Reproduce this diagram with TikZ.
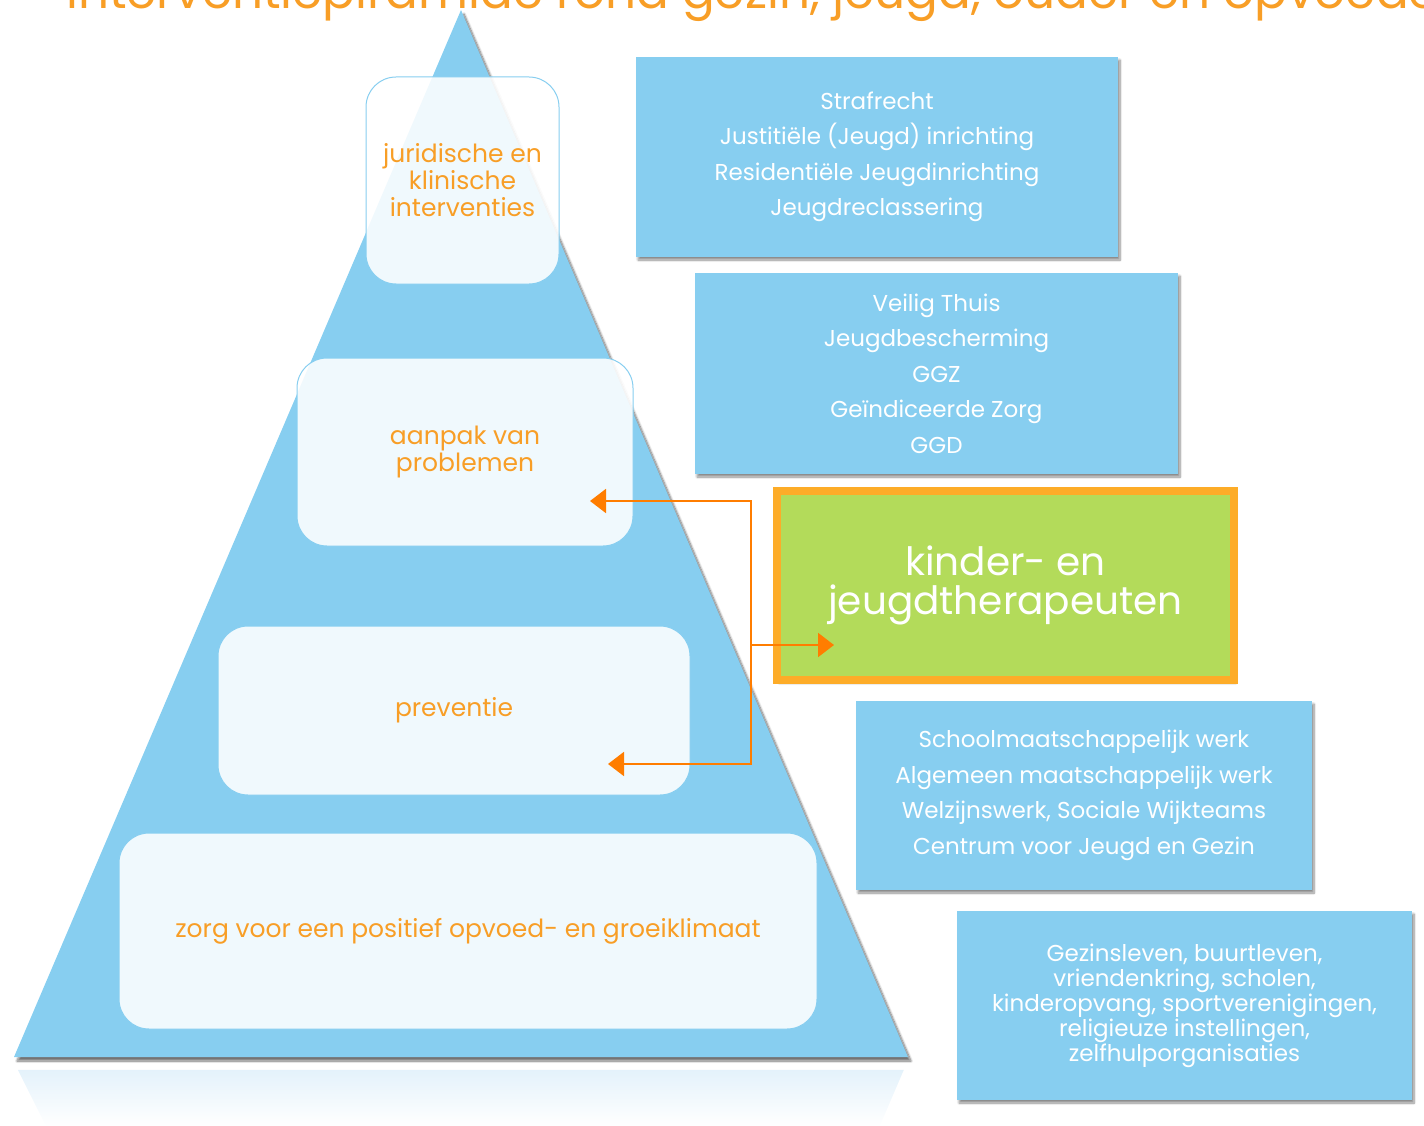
\documentclass[tikz,border=0pt]{standalone}
\usepackage{fontspec}
\setmainfont{Poppins}
\usetikzlibrary{arrows.meta,shadows.blur,fadings}
\definecolor{piramideblauw}{RGB}{135,206,240}
\definecolor{spiegelblauw}{RGB}{228,242,251}
\definecolor{tekstoranje}{RGB}{248,158,38}
\definecolor{pijloranje}{RGB}{255,125,0}
\definecolor{kadergroen}{RGB}{179,219,90}
\definecolor{kaderoranje}{RGB}{253,172,40}
\tikzset{
  schaduw/.style={blur shadow={shadow xshift=2pt,shadow yshift=-3pt,shadow blur steps=8,shadow opacity=45}},
  niveau/.style={draw=piramideblauw,line width=1pt,fill=white,fill opacity=0.88,text opacity=1,
    rounded corners=30pt,text=tekstoranje,align=center,inner sep=0pt,
    font={\fontsize{25}{27}\selectfont}},
  instantie/.style={fill=piramideblauw,schaduw,text=white,align=center,inner sep=0pt,
    font={\fontsize{23}{35.5}\selectfont}},
  therapeut/.style={fill=kadergroen,draw=kaderoranje,line width=8pt,schaduw,text=white,
    align=center,inner sep=0pt,font={\fontsize{39}{39}\selectfont}},
  pijl/.style={draw=pijloranje,line width=2pt,arrows={-Triangle[length=16pt,width=24pt]}}
}
\begin{document}
\begin{tikzpicture}[x=1pt,y=-1pt]
  \useasboundingbox (0,0) rectangle (1424,1126);
  % titel, bovenaan afgesneden
  \begin{scope}
    \clip (0,0) rectangle (1424,1126);
    \node[anchor=base west,inner sep=0pt,text=tekstoranje,font={\fontsize{48.5}{48.5}\selectfont}] (titel) at (66,9)
      {Interventiepiramide rond gezin, jeugd, ouder en opvoeder};
  \end{scope}
  % spiegeling onder de piramide
  \fill[spiegelblauw,path fading=south] (18,1070) -- (904,1070) -- (880,1126) -- (46,1126) -- cycle;
  % piramide
  \fill[piramideblauw,blur shadow={shadow xshift=3pt,shadow yshift=-4pt,shadow blur steps=10,shadow opacity=55}]
    (14,1057) -- (461,10) -- (908,1057) -- cycle;
  % niveaus in de piramide
  \node[niveau,minimum width=193pt,minimum height=207pt] (juri) at (462.5,180.5)
    {juridische en\\klinische\\interventies};
  \node[niveau,minimum width=336pt,minimum height=188pt] (probl) at (465,452)
    {aanpak van\\problemen};
  \node[niveau,minimum width=472pt,minimum height=169pt] (prev) at (454,710.5) {preventie};
  \node[niveau,minimum width=698pt,minimum height=196pt] (klimaat) at (468,931)
    {zorg voor een positief opvoed- en groeiklimaat};
  % instanties rechts
  \node[instantie,minimum width=482pt,minimum height=200pt] (straf) at (877,157)
    {Strafrecht\\Justitiële (Jeugd) inrichting\\Residentiële Jeugdinrichting\\Jeugdreclassering};
  \node[instantie,minimum width=483pt,minimum height=201pt] (veilig) at (936.5,373.5)
    {Veilig Thuis\\Jeugdbescherming\\GGZ\\Geïndiceerde Zorg\\GGD};
  \node[therapeut,minimum width=457pt,minimum height=189pt] (therap) at (1005.5,585.5)
    {kinder- en\\jeugdtherapeuten};
  \node[instantie,minimum width=456pt,minimum height=189pt] (school) at (1084,795.5)
    {Schoolmaatschappelijk werk\\Algemeen maatschappelijk werk\\Welzijnswerk, Sociale Wijkteams\\Centrum voor Jeugd en Gezin};
  \node[instantie,minimum width=455pt,minimum height=189pt,font={\fontsize{23}{25}\selectfont}] (gezin) at (1184.5,1005.5)
    {Gezinsleven, buurtleven,\\vriendenkring, scholen,\\kinderopvang, sportverenigingen,\\religieuze instellingen,\\zelfhulporganisaties};
  % verbindingen
  \coordinate (kbov) at (751,501);
  \coordinate (kond) at (751,764);
  \coordinate (ktak) at (751,645);
  \coordinate (tprobl) at (590,501);
  \coordinate (tprev) at (608,764);
  \coordinate (ttherap) at (834,645);
  \draw[pijl,{Triangle[length=16pt,width=24pt]}-{Triangle[length=16pt,width=24pt]}] (tprobl) -- (kbov) -- (kond) -- (tprev);
  \draw[pijl] (ktak) -- (ttherap);
\end{tikzpicture}
\end{document}
